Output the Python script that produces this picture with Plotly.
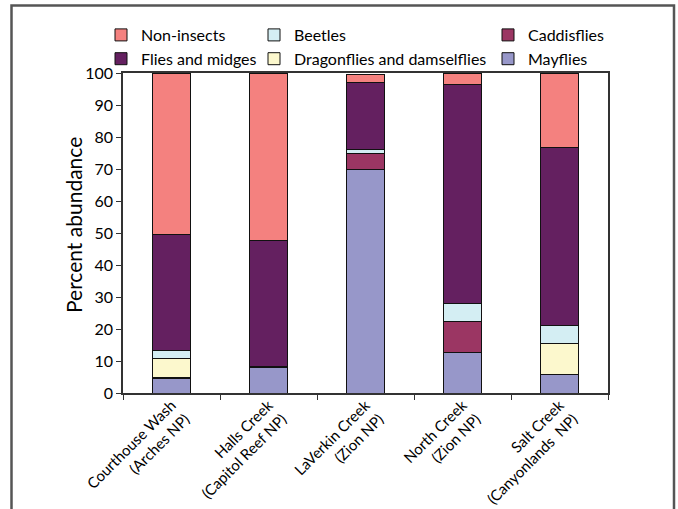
import plotly.graph_objects as go

sites = ["Courthouse Wash<br>(Arches NP)", "Halls Creek<br>(Capitol Reef NP)",
         "LaVerkin Creek<br>(Zion NP)", "North Creek<br>(Zion NP)",
         "Salt Creek<br>(Canyonlands  NP)"]

mayflies = [4.4, 8.0, 69.8, 12.7, 5.7]
caddisflies = [0.3, 0.4, 5.2, 9.5, 0.0]
dragonflies = [6.0, 0.0, 0.0, 0.0, 9.9]
beetles = [2.6, 0.0, 1.2, 5.7, 5.5]
flies_midges = [36.2, 39.4, 20.9, 68.6, 55.5]
non_insects = [50.2, 52.2, 2.3, 3.2, 23.4]

y_title = "Percent abundance"

series = [
    ("Mayflies", mayflies, "#9797C9", "legend3"),
    ("Caddisflies", caddisflies, "#9B3663", "legend3"),
    ("Dragonflies and damselflies", dragonflies, "#FCF8CD", "legend2"),
    ("Beetles", beetles, "#D4EEF3", "legend2"),
    ("Flies and midges", flies_midges, "#642060", "legend"),
    ("Non-insects", non_insects, "#F4817F", "legend"),
]

fig = go.Figure()
for name, vals, color, lg in series:
    fig.add_trace(go.Bar(
        x=sites, y=vals, name=name, legend=lg,
        marker=dict(color=color, line=dict(color="#111111", width=1)),
    ))

FONT = "Lato"
L, R, T, B = 123, 70, 73, 116
W, H = 678, 509
pw, ph = W - L - R, H - T - B

def px(x):
    return (x - L) / pw

def py(y):
    return (H - B - y) / ph

leg_common = dict(orientation="v", xanchor="left", yanchor="top",
                  xref="container", yref="container",
                  bgcolor="rgba(0,0,0,0)", font=dict(family=FONT, size=16, color="#000"),
                  traceorder="reversed", itemwidth=30, tracegroupgap=0)

fig.update_layout(
    width=W, height=H,
    margin=dict(l=L, r=R, t=T, b=B, autoexpand=False),
    paper_bgcolor="white", plot_bgcolor="white",
    barmode="stack", bargap=0.6,
    font=dict(family=FONT, size=15, color="#000"),
    legend=dict(x=101 / W, y=1 - 18 / H, **leg_common),
    legend2=dict(x=254 / W, y=1 - 18 / H, **leg_common),
    legend3=dict(x=488 / W, y=1 - 18 / H, **leg_common),
    xaxis=dict(tickangle=-45, tickson="boundaries", ticks="outside", ticklen=5,
               tickcolor="#333", showline=True, linecolor="#333", linewidth=1.5,
               mirror=True, tickfont=dict(family=FONT, size=15, color="#000"),
               ticklabelstandoff=-4,
               showgrid=False, automargin=False),
    yaxis=dict(range=[0, 100], dtick=10, ticks="outside", ticklen=5, tickcolor="#333",
               showline=True, linecolor="#333", linewidth=1.5, mirror=True,
               showgrid=False, zeroline=False, automargin=False,
               tickfont=dict(family=FONT, size=16, color="#000")),
    annotations=[dict(text=y_title, xref="paper", yref="paper", x=px(73), y=py(225),
                      xanchor="center", yanchor="middle", textangle=-90, showarrow=False,
                      font=dict(family=FONT, size=21, color="#000"))],
    shapes=[dict(type="rect", xref="paper", yref="paper",
                 x0=px(11.5), x1=px(674), y0=py(520), y1=py(5.5),
                 line=dict(color="#555", width=2.5), fillcolor="rgba(0,0,0,0)", layer="below")],
)

fig.write_html("out.html", config={"displayModeBar": False},
               post_script="document.body.style.margin='0';")
